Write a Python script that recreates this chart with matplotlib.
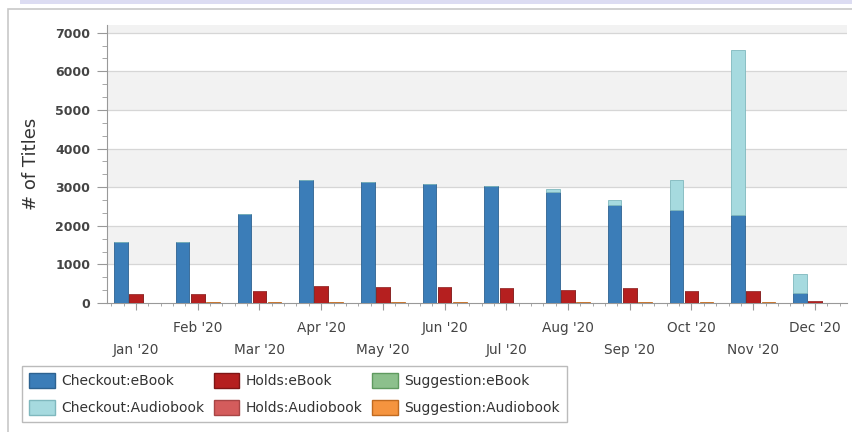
import matplotlib
matplotlib.use("Agg")
import matplotlib.pyplot as plt
import numpy as np
from matplotlib.patches import Patch, Rectangle
from matplotlib.ticker import MultipleLocator

months = ["Jan '20", "Feb '20", "Mar '20", "Apr '20", "May '20", "Jun '20",
          "Jul '20", "Aug '20", "Sep '20", "Oct '20", "Nov '20", "Dec '20"]
checkout_ebook = [1580, 1580, 2300, 3180, 3140, 3080, 3040, 2880, 2550, 2410, 2290, 260]
checkout_audio = [0, 0, 0, 0, 0, 0, 0, 80, 110, 770, 4260, 490]
holds_ebook = [230, 230, 310, 450, 420, 420, 380, 340, 380, 300, 300, 40]
holds_audio = [0, 0, 0, 0, 0, 0, 0, 0, 0, 0, 0, 0]
sugg_ebook = [0, 0, 0, 0, 0, 0, 0, 0, 0, 0, 0, 0]
sugg_audio = [10, 30, 25, 30, 30, 15, 10, 30, 35, 15, 15, 10]

c_ce, c_ca = "#3b7db8", "#a6dadf"
c_he, c_ha = "#b51f1f", "#d45c5c"
c_se, c_sa = "#8cc08c", "#f5943f"
e_ce, e_ca = "#2d6290", "#7fb8be"
e_he, e_ha = "#7e1515", "#a84545"
e_se, e_sa = "#5f9a5f", "#c06a20"

W, H = 852, 432
fig = plt.figure(figsize=(W / 100, H / 100), dpi=100)
fig.patch.set_facecolor("white")

# outer decorations
fig.patches.append(Rectangle((20 / W, 1 - 4 / H), (W - 20) / W, 4 / H,
                             transform=fig.transFigure, facecolor="#dcdcf2",
                             edgecolor="none"))
fig.patches.append(Rectangle((8 / W, -0.01), (W - 8) / W + 0.02, 1 - 9 / H + 0.01,
                             transform=fig.transFigure, facecolor="none",
                             edgecolor="#c8c8c8", linewidth=1.2))

ax = fig.add_axes([107 / W, 1 - 303 / H, 740 / W, 278 / H])
x = np.arange(len(months))
wd = 0.22
off = 0.245

ax.bar(x - off, checkout_ebook, wd, color=c_ce, edgecolor=e_ce, linewidth=0.6, zorder=3)
ax.bar(x - off, checkout_audio, wd, bottom=checkout_ebook, color=c_ca, edgecolor=e_ca,
       linewidth=0.6, zorder=3)
ax.bar(x, holds_ebook, wd, color=c_he, edgecolor=e_he, linewidth=0.6, zorder=3)
ax.bar(x, holds_audio, wd, bottom=holds_ebook, color=c_ha, edgecolor=e_ha,
       linewidth=0.6, zorder=3)
ax.bar(x + off, sugg_ebook, wd, color=c_se, edgecolor=e_se, linewidth=0.6, zorder=3)
ax.bar(x + off, sugg_audio, wd, bottom=sugg_ebook, color=c_sa, edgecolor=e_sa,
       linewidth=0.6, zorder=3)

ax.set_xlim(-0.47, 11.52)
ax.set_ylim(0, 7200)

# alternating bands and grid
for lo in [1000, 3000, 5000, 7000]:
    ax.axhspan(lo, lo + 1000, color="#f2f2f2", zorder=0, linewidth=0)
for yv in range(1000, 8000, 1000):
    ax.axhline(yv, color="#d6d6d6", linewidth=0.9, zorder=1)

ax.set_yticks(range(0, 8000, 1000))
ax.yaxis.set_minor_locator(MultipleLocator(1000 / 3))
ax.tick_params(axis="y", which="major", length=7, color="#999999", labelsize=9,
               labelcolor="#444444", pad=5)
ax.tick_params(axis="y", which="minor", length=3.5, color="#999999")

labels = [("\n" + m) if i % 2 == 0 else m for i, m in enumerate(months)]
ax.set_xticks(x)
ax.set_xticklabels(labels)
ax.xaxis.set_minor_locator(MultipleLocator(0.2))
ax.tick_params(axis="x", which="major", length=5, color="#999999", labelsize=9.8,
               labelcolor="#444444", pad=8)
ax.tick_params(axis="x", which="minor", length=2.5, color="#999999")
for t in ax.get_xticklabels():
    t.set_linespacing(1.7)

for s in ["top", "right"]:
    ax.spines[s].set_visible(False)
ax.spines["left"].set_color("#999999")
ax.spines["bottom"].set_color("#999999")
for yt in ax.get_yticklabels():
    yt.set_fontweight("bold")

ax.set_ylabel("# of Titles", fontsize=13, color="#333333", labelpad=11)

handles = [Patch(facecolor=c_ce, edgecolor=e_ce, label="Checkout:eBook"),
           Patch(facecolor=c_ca, edgecolor=e_ca, label="Checkout:Audiobook"),
           Patch(facecolor=c_he, edgecolor=e_he, label="Holds:eBook"),
           Patch(facecolor=c_ha, edgecolor=e_ha, label="Holds:Audiobook"),
           Patch(facecolor=c_se, edgecolor=e_se, label="Suggestion:eBook"),
           Patch(facecolor=c_sa, edgecolor=e_sa, label="Suggestion:Audiobook")]
leg = fig.legend(handles=handles, ncol=3, loc="upper left",
                 bbox_to_anchor=(22 / W, 1 - 366 / H), fontsize=10,
                 frameon=True, fancybox=False, edgecolor="#aaaaaa",
                 handlelength=1.85, handleheight=1.3, handletextpad=0.45,
                 columnspacing=0.7, labelspacing=0.85, borderpad=0.5,
                 borderaxespad=0)
for t in leg.get_texts():
    t.set_color("#333333")
leg.get_frame().set_linewidth(1.0)

fig.savefig("out.png", dpi=100, facecolor="white")
